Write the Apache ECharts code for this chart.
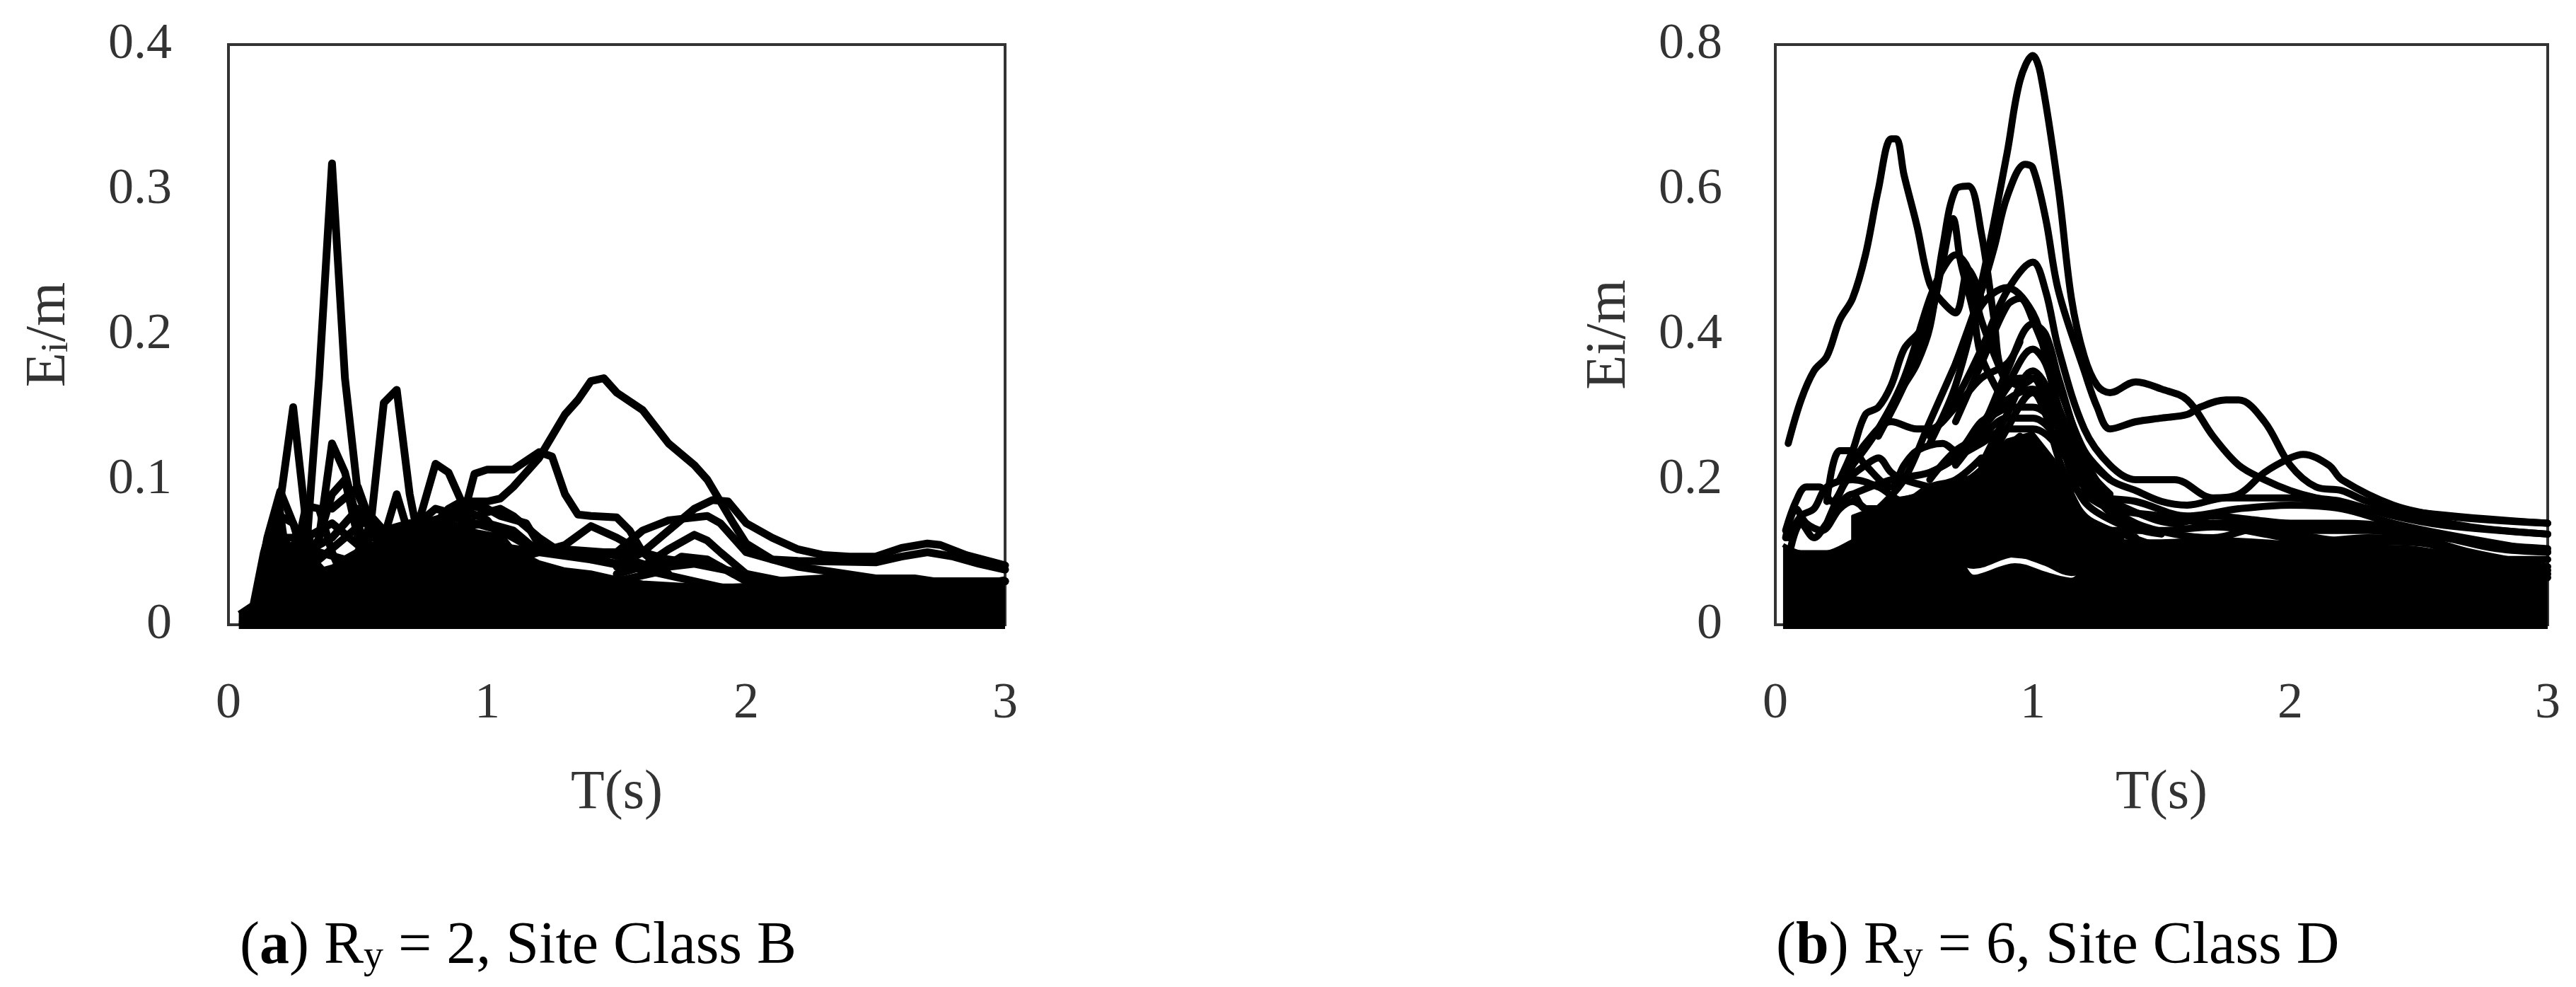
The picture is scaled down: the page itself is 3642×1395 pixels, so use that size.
<!DOCTYPE html>
<html><head><meta charset="utf-8">
<style>html,body{margin:0;padding:0;background:#fff}#c{width:3642px;height:1395px}</style>
<script src="https://cdn.jsdelivr.net/npm/echarts@6/dist/echarts.min.js"></script>
</head><body><div id="c"></div>
<script>
// Tick labels
const xTicks = [0, 1, 2, 3];
const yTicksA = [0, 0.1, 0.2, 0.3, 0.4];
const yTicksB = [0, 0.2, 0.4, 0.6, 0.8];

// Panel (a): dense lower mass of records, then the individually visible records [T, Ei/m]
const aFloor = [[0.04,0],[3,0]];
const aMass = [[0.04,0.008],[0.09,0.014],[0.13,0.05],[0.17,0.075],[0.2,0.085],[0.22,0.06],[0.3,0.035],[0.4,0.04],[0.5,0.05],[0.6,0.055],[0.7,0.06],[0.8,0.062],[0.9,0.065],[1,0.06],[1.1,0.052],[1.2,0.043],[1.3,0.038],[1.4,0.036],[1.5,0.032],[1.6,0.029],[1.8,0.027],[1.95,0.027],[2.1,0.028],[2.2,0.03],[2.5,0.03],[2.7,0.027],[2.85,0.027],[3,0.032]];
const a01 = [[0.1,0.012],[0.2,0.03],[0.3,0.05],[0.35,0.17],[0.4,0.318],[0.45,0.17],[0.5,0.09],[0.55,0.07],[0.6,0.045],[0.7,0.03]];
const a02 = [[0.1,0.012],[0.15,0.05],[0.2,0.085],[0.25,0.15],[0.3,0.07],[0.35,0.03]];
const a03 = [[0.45,0.03],[0.5,0.05],[0.55,0.07],[0.6,0.153],[0.65,0.162],[0.7,0.09],[0.75,0.045],[0.8,0.03]];
const a04 = [[0.25,0.03],[0.3,0.04],[0.35,0.06],[0.4,0.125],[0.45,0.105],[0.5,0.07],[0.55,0.04],[0.6,0.03]];
const a05 = [[0.1,0.012],[0.15,0.06],[0.2,0.092],[0.25,0.07],[0.3,0.04],[0.35,0.025]];
const a06 = [[0.65,0.04],[0.7,0.05],[0.75,0.08],[0.8,0.111],[0.85,0.105],[0.9,0.085],[0.95,0.06],[1,0.04]];
const a07 = [[0.8,0.04],[0.85,0.05],[0.9,0.07],[0.95,0.104],[1,0.107],[1.05,0.107],[1.1,0.107],[1.15,0.113],[1.2,0.119],[1.25,0.116],[1.3,0.09],[1.35,0.076],[1.4,0.075],[1.5,0.074],[1.55,0.065],[1.6,0.05],[1.7,0.04]];
const a08 = [[0.7,0.05],[0.8,0.07],[0.85,0.08],[0.9,0.085],[1,0.085],[1.05,0.087],[1.1,0.095],[1.2,0.115],[1.25,0.13],[1.3,0.145],[1.35,0.155],[1.4,0.168],[1.45,0.17],[1.5,0.16],[1.6,0.148],[1.7,0.125],[1.8,0.11],[1.85,0.1],[1.9,0.085],[1.95,0.07],[2,0.056],[2.1,0.045],[2.2,0.04],[2.5,0.032],[2.65,0.032],[2.8,0.028],[3,0.03]];
const a09 = [[1.5,0.04],[1.6,0.05],[1.7,0.065],[1.8,0.08],[1.87,0.086],[1.93,0.085],[2,0.07],[2.1,0.06],[2.2,0.052],[2.3,0.048],[2.4,0.047],[2.5,0.047],[2.6,0.053],[2.7,0.056],[2.75,0.055],[2.85,0.048],[3,0.041]];
const a10 = [[1.4,0.045],[1.5,0.05],[1.6,0.065],[1.7,0.072],[1.85,0.075],[1.9,0.07],[2,0.05],[2.1,0.045],[2.2,0.044],[2.5,0.043],[2.6,0.047],[2.7,0.05],[2.8,0.047],[2.9,0.042],[3,0.038]];
const a11 = [[1.5,0.035],[1.6,0.04],[1.7,0.052],[1.8,0.062],[1.85,0.058],[1.9,0.05],[2,0.035],[2.1,0.03],[2.3,0.032],[2.6,0.032],[2.7,0.03],[3,0.03]];
const a12 = [[1.1,0.045],[1.2,0.05],[1.3,0.055],[1.4,0.068],[1.5,0.06],[1.6,0.05],[1.7,0.035]];
const a13 = [[1.5,0.03],[1.65,0.036],[1.75,0.047],[1.85,0.045],[1.95,0.035],[2.05,0.028]];
const a14 = [[0.6,0.05],[0.7,0.06],[0.9,0.083],[1,0.08],[1.05,0.075],[1.15,0.07],[1.2,0.055],[1.3,0.05],[1.5,0.05],[1.6,0.05],[1.7,0.045],[1.9,0.04],[2,0.03]];
const a15 = [[0.25,0.04],[0.3,0.082],[0.35,0.08],[0.4,0.05],[0.45,0.03]];
const a16 = [[0.5,0.04],[0.55,0.05],[0.6,0.06],[0.65,0.09],[0.7,0.06],[0.75,0.04]];
const a17 = [[0.3,0.03],[0.4,0.09],[0.45,0.1],[0.5,0.06],[0.55,0.04]];
const a18 = [[0.15,0.05],[0.2,0.075],[0.25,0.07],[0.3,0.05],[0.4,0.03]];
const a19 = [[0.55,0.03],[0.6,0.06],[0.7,0.065],[0.8,0.06],[0.9,0.08],[1,0.072],[1.1,0.05],[1.2,0.04]];
const a20 = [[0.4,0.035],[0.5,0.05],[0.6,0.055],[0.7,0.062],[0.85,0.07],[1,0.06],[1.15,0.04]];
const a21 = [[1.1,0.05],[1.3,0.05],[1.5,0.042],[1.7,0.04],[1.8,0.042],[2,0.035],[2.2,0.028]];
const a22 = [[0.9,0.06],[1,0.055],[1.2,0.05],[1.4,0.045],[1.6,0.038],[1.8,0.03],[1.95,0.024]];
const a23 = [[0.2,0.06],[0.3,0.06],[0.4,0.07],[0.5,0.055],[0.6,0.065],[0.7,0.07],[0.8,0.055]];
const a24 = [[0.25,0.06],[0.35,0.045],[0.45,0.06],[0.55,0.075],[0.65,0.055],[0.75,0.07],[0.85,0.075],[0.95,0.07],[1.05,0.065],[1.15,0.055]];
const a25 = [[0.3,0.05],[0.4,0.06],[0.5,0.08],[0.6,0.05],[0.7,0.065],[0.8,0.08],[0.9,0.075]];
const a26 = [[0.4,0.08],[0.5,0.095],[0.55,0.07],[0.65,0.05],[0.8,0.065],[1,0.07],[1.1,0.065],[1.2,0.05]];
const a27 = [[0.95,0.075],[1.05,0.08],[1.1,0.075],[1.2,0.06],[1.3,0.048]];
const a28 = [[1.2,0.052],[1.3,0.052],[1.45,0.05],[1.6,0.042]];
const a29 = [[0.2,0.05],[0.25,0.055],[0.3,0.045],[0.35,0.05],[0.45,0.045],[0.55,0.055],[0.65,0.05],[0.75,0.06],[0.9,0.065],[1.05,0.06]];
const aCurves = [a01,a02,a03,a04,a05,a06,a07,a08,a09,a10,a11,a12,a13,a14,a15,a16,a17,a18,a19,a20,a21,a22,a23,a24,a25,a26,a27,a28,a29];

// Panel (b)
const bFloor = [[0.03,0],[3,0]];
const bMass = [[0.03,0.11],[0.1,0.1],[0.2,0.1],[0.3,0.115],[0.4,0.13],[0.5,0.135],[0.6,0.13],[0.7,0.1],[0.77,0.066],[0.93,0.082],[0.97,0.08],[1.05,0.07],[1.15,0.062],[1.25,0.1],[1.35,0.115],[1.5,0.115],[1.7,0.118],[1.9,0.115],[2.1,0.11],[2.3,0.108],[2.5,0.105],[2.7,0.09],[2.85,0.072],[3,0.065]];
// Upper dense band over the peak: [T, lower edge, upper edge]
const bBand = [[0.3,0.11,0.15],[0.45,0.12,0.17],[0.6,0.125,0.185],[0.7,0.095,0.2],[0.77,0.085,0.205],[0.9,0.095,0.255],[1,0.092,0.265],[1.1,0.078,0.22],[1.2,0.07,0.15],[1.35,0.1,0.125]];
const b01 = [[0.05,0.25],[0.1,0.31],[0.15,0.35],[0.2,0.37],[0.25,0.42],[0.3,0.45],[0.35,0.51],[0.4,0.6],[0.45,0.67],[0.47,0.67],[0.5,0.62],[0.55,0.55],[0.6,0.47],[0.65,0.445],[0.7,0.43],[0.75,0.49],[0.8,0.45]];
const b02 = [[0.4,0.27],[0.5,0.33],[0.55,0.36],[0.6,0.41],[0.65,0.52],[0.7,0.6],[0.75,0.605],[0.8,0.54],[0.85,0.42],[0.88,0.35],[0.95,0.33],[1,0.34]];
const b03 = [[0.4,0.26],[0.5,0.33],[0.6,0.42],[0.65,0.5],[0.69,0.56],[0.72,0.5],[0.77,0.43],[0.8,0.37],[0.9,0.3]];
const b04 = [[0.3,0.22],[0.4,0.27],[0.5,0.34],[0.6,0.45],[0.65,0.49],[0.7,0.51],[0.75,0.49],[0.8,0.42],[0.9,0.33]];
const b05 = [[0.6,0.25],[0.7,0.33],[0.8,0.47],[0.9,0.65],[0.95,0.75],[1,0.785],[1.03,0.76],[1.1,0.6],[1.15,0.45],[1.2,0.37],[1.25,0.33],[1.3,0.32],[1.4,0.335],[1.5,0.325],[1.6,0.31],[1.7,0.26],[1.8,0.22],[1.9,0.2],[2,0.185],[2.1,0.175],[2.2,0.17],[2.4,0.15],[2.6,0.137],[3,0.125]];
const b06 = [[0.7,0.36],[0.8,0.46],[0.85,0.52],[0.9,0.59],[0.97,0.635],[1,0.63],[1.05,0.56],[1.1,0.46],[1.2,0.35],[1.25,0.3],[1.3,0.27],[1.4,0.28],[1.5,0.285],[1.6,0.29],[1.65,0.3],[1.75,0.31],[1.8,0.31],[1.9,0.28],[2,0.22],[2.1,0.19],[2.2,0.185],[2.3,0.17],[2.5,0.155],[3,0.14]];
const b07 = [[0.6,0.26],[0.7,0.31],[0.8,0.38],[0.9,0.46],[1,0.5],[1.05,0.46],[1.1,0.38],[1.2,0.27],[1.3,0.22],[1.4,0.2],[1.55,0.2],[1.7,0.175],[1.8,0.18],[1.9,0.21],[2,0.23],[2.05,0.235],[2.15,0.22],[2.2,0.2],[2.4,0.165],[2.6,0.15],[3,0.14]];
const b08 = [[0.4,0.16],[0.5,0.2],[0.6,0.28],[0.7,0.36],[0.8,0.44],[0.9,0.465],[1,0.43],[1.05,0.37],[1.1,0.3],[1.2,0.22],[1.3,0.18]];
const b09 = [[0.7,0.28],[0.8,0.36],[0.9,0.44],[0.95,0.45],[1,0.42],[1.1,0.33],[1.2,0.24],[1.3,0.2]];
const b10 = [[0.7,0.22],[0.8,0.27],[0.9,0.35],[1,0.415],[1.05,0.4],[1.1,0.34],[1.2,0.23],[1.3,0.17]];
const b11 = [[0.2,0.14],[0.3,0.22],[0.35,0.25],[0.45,0.28],[0.55,0.27],[0.6,0.27],[0.7,0.3],[0.8,0.34],[0.9,0.36],[0.95,0.39]];
const b12 = [[0.25,0.2],[0.3,0.24],[0.35,0.29],[0.4,0.3],[0.45,0.33],[0.5,0.38],[0.55,0.4],[0.6,0.42]];
const b13 = [[0.04,0.13],[0.08,0.17],[0.12,0.19],[0.17,0.19],[0.22,0.17],[0.28,0.2],[0.35,0.22],[0.4,0.23],[0.45,0.21],[0.5,0.2],[0.6,0.19]];
const b14 = [[0.2,0.17],[0.25,0.24],[0.3,0.24],[0.35,0.22],[0.45,0.19],[0.5,0.22],[0.55,0.24],[0.65,0.25],[0.7,0.24],[0.8,0.28],[0.85,0.29],[0.9,0.3]];
const b15 = [[1.2,0.18],[1.3,0.16],[1.5,0.15],[1.7,0.14],[1.9,0.14],[2.1,0.13],[2.3,0.13],[2.5,0.12],[2.7,0.1],[3,0.08]];
const b16 = [[1.1,0.21],[1.2,0.18],[1.4,0.17],[1.6,0.15],[1.8,0.16],[2,0.165],[2.2,0.16],[2.4,0.14],[2.6,0.125],[3,0.1]];
const b17 = [[1.15,0.25],[1.3,0.2],[1.4,0.185],[1.5,0.17],[1.6,0.165],[1.75,0.175],[2,0.175],[2.2,0.165],[2.4,0.155],[2.7,0.135],[3,0.125]];
const b18 = [[1.1,0.3],[1.2,0.22],[1.3,0.165],[1.4,0.14],[1.55,0.125],[1.7,0.12],[1.9,0.135],[2.1,0.12],[2.3,0.11],[2.6,0.09],[3,0.065]];
const b19 = [[0.8,0.27],[0.9,0.33],[1,0.38],[1.05,0.36],[1.1,0.3],[1.2,0.2],[1.35,0.14],[1.5,0.125]];
const b20 = [[0.8,0.22],[0.9,0.29],[1,0.35],[1.05,0.33],[1.1,0.27],[1.2,0.17],[1.4,0.13]];
const b21 = [[0.8,0.2],[0.9,0.27],[1,0.32],[1.05,0.29],[1.1,0.23],[1.2,0.15],[1.4,0.12]];
const b23 = [[0.05,0.12],[0.1,0.15],[0.15,0.16],[0.2,0.19],[0.3,0.2],[0.4,0.19],[0.5,0.17],[0.6,0.19],[0.7,0.2],[0.8,0.23]];
const b24 = [[0.05,0.09],[0.1,0.14],[0.15,0.12],[0.2,0.14],[0.3,0.18],[0.35,0.16],[0.45,0.16],[0.55,0.17],[0.65,0.18],[0.8,0.2],[0.9,0.23]];
const b28 = [[0.7,0.09],[0.77,0.082],[0.93,0.098],[0.97,0.096],[1.05,0.086],[1.15,0.072],[1.22,0.08]];
const b30 = [[1.1,0.19],[1.2,0.145],[1.35,0.125],[1.5,0.11],[1.7,0.11],[1.9,0.1],[2.1,0.105],[2.4,0.1],[2.7,0.085],[3,0.07]];
const b31 = [[1.7,0.14],[1.9,0.125],[2.1,0.115],[2.3,0.12],[2.5,0.115],[2.75,0.09],[3,0.09]];
const b32 = [[2,0.13],[2.2,0.135],[2.4,0.13],[2.6,0.12],[2.8,0.105],[3,0.1]];
const b44 = [[0.3,0.18],[0.45,0.2],[0.6,0.21],[0.7,0.23],[0.8,0.25],[0.9,0.27],[1,0.27],[1.1,0.245],[1.2,0.19],[1.35,0.15]];
const b45 = [[0.6,0.2],[0.7,0.24],[0.8,0.26],[0.9,0.285],[1,0.285],[1.1,0.255],[1.2,0.2],[1.35,0.155]];
const b46 = [[0.6,0.21],[0.7,0.23],[0.8,0.27],[0.9,0.3],[1,0.3],[1.1,0.27],[1.2,0.21],[1.35,0.16]];
const b47 = [[0.7,0.23],[0.8,0.27],[0.9,0.31],[1,0.325],[1.1,0.28],[1.2,0.21]];
const b48 = [[0.75,0.25],[0.85,0.3],[0.95,0.34],[1,0.34],[1.05,0.31],[1.15,0.24],[1.25,0.17]];
const b49 = [[1.3,0.13],[1.5,0.13],[1.7,0.135],[1.9,0.128],[2.1,0.115],[2.3,0.115],[2.5,0.113],[2.7,0.098],[2.9,0.08],[3,0.075]];
const b50 = [[1.2,0.19],[1.4,0.155],[1.55,0.14],[1.7,0.15],[1.85,0.145],[2,0.14],[2.2,0.14],[2.4,0.135],[2.6,0.12],[2.8,0.11],[3,0.105]];
const b51 = [[0.04,0.12],[0.08,0.16],[0.12,0.14],[0.18,0.13],[0.25,0.16],[0.3,0.17],[0.35,0.16]];
const b52 = [[0.45,0.17],[0.6,0.18],[0.75,0.2],[0.85,0.23],[0.95,0.26]];
const bCurves = [b01,b02,b03,b04,b05,b06,b07,b08,b09,b10,b11,b12,b13,b14,b15,b16,b17,b18,b19,b20,b21,b23,b24,b28,b30,b31,b32,b44,b45,b46,b47,b48,b49,b50,b51,b52];

// Text
const yNameA = '{i|E}{s|i}{i|/m}';
const yNameB = 'Ei/m';
const xName = 'T(s)';
const captionA = ['(', 'a', ') R', 'y', ' = 2, Site Class B'];
const captionB = ['(', 'b', ') R', 'y', ' = 6, Site Class D'];

const FONT = 'Liberation Serif';
const TICK = '#333';
const BLACK = '#000';

function cap(c){ return `{n|${c[0]}}{b|${c[1]}}{n|${c[2]}}{s|${c[3]}}{n|${c[4]}}`; }
const capRich = {
  n:{fontFamily:FONT,fontSize:84,fontWeight:'normal',color:'#000'},
  b:{fontFamily:FONT,fontSize:84,fontWeight:'bold',color:'#000'},
  s:{fontFamily:FONT,fontSize:56,fontWeight:'normal',color:'#000',verticalAlign:'bottom',padding:[24,0,0,0]}
};
function xAxis(i){ return {
  gridIndex:i,type:'value',min:0,max:3,interval:1,
  name:xName,nameLocation:'middle',nameGap:200,
  nameTextStyle:{fontFamily:FONT,fontSize:78,color:TICK},
  axisLine:{show:false},axisTick:{show:false},splitLine:{show:false},
  axisLabel:{margin:76,fontFamily:FONT,fontSize:72,color:TICK,
    formatter:v=>xTicks.includes(v)?String(v):''}
};}
function yAxis(i,max,int,ticks,name,rich,gap,pad,margin){ return {
  gridIndex:i,type:'value',min:0,max:max,interval:int,
  name:name,nameLocation:'middle',nameGap:gap,nameRotate:90,
  nameTextStyle:{fontFamily:FONT,fontSize:80,color:TICK,padding:pad,rich:rich},
  axisLine:{show:false},axisTick:{show:false},splitLine:{show:false},
  axisLabel:{margin:margin,fontFamily:FONT,fontSize:72,color:TICK,
    formatter:v=>ticks.includes(+v.toFixed(1))?(v===0?'0':v.toFixed(1)):''}
};}
function bandSeries(i,rows){
  return {type:'custom',xAxisIndex:i,yAxisIndex:i,data:rows,silent:true,clip:false,
    encode:{x:0,y:[1,2]},
    renderItem:(params,api)=>{
      const k=params.dataIndex; if(k>=rows.length-1) return null;
      const r=rows[k], s=rows[k+1];
      const pts=[api.coord([r[0],r[1]]),api.coord([s[0],s[1]]),api.coord([s[0],s[2]]),api.coord([r[0],r[2]])];
      return {type:'polygon',shape:{points:pts},style:{fill:BLACK,stroke:BLACK,lineWidth:4,lineJoin:'round'}};
    }};
}
function mk(i,curves,mass,floor,smooth,band){
  const base={type:'line',xAxisIndex:i,yAxisIndex:i,showSymbol:false,symbol:'none',clip:false,silent:true};
  const out=[
    {...base,data:floor,lineStyle:{color:BLACK,width:12,cap:'butt'}},
    {...base,data:mass,smooth:smooth?0.3:false,lineStyle:{color:BLACK,width:6,join:'round'},areaStyle:{color:BLACK,opacity:1,origin:0}}
  ];
  if(band) out.push(bandSeries(i,band));
  curves.forEach(d=>out.push({...base,data:d,smooth:smooth?0.35:false,
    lineStyle:{color:BLACK,width:smooth?10:11,join:'round',cap:'round'}}));
  return out;
}
const chart = echarts.init(document.getElementById('c'),null,{renderer:'canvas'});
chart.setOption({
  animation:false,backgroundColor:'#fff',
  grid:[
    {left:323,top:63,width:1098,height:820,show:true,borderColor:'#333',borderWidth:4,backgroundColor:'transparent'},
    {left:2510,top:63,width:1092,height:820,show:true,borderColor:'#333',borderWidth:4,backgroundColor:'transparent'}
  ],
  xAxis:[xAxis(0),xAxis(1)],
  yAxis:[
    yAxis(0,0.4,0.1,yTicksA,yNameA,{i:{fontFamily:FONT,fontSize:80,color:TICK},s:{fontFamily:FONT,fontSize:54,color:TICK,padding:[22,0,0,0]}},213,[100,0,0,0],80),
    yAxis(1,0.8,0.2,yTicksB,yNameB,undefined,194,[0,0,0,0],75)
  ],
  title:[
    {text:cap(captionA),left:334,top:1292,textStyle:{rich:capRich}},
    {text:cap(captionB),left:2506,top:1292,textStyle:{rich:capRich}}
  ],
  series:[...mk(0,aCurves,aMass,aFloor,false),...mk(1,bCurves,bMass,bFloor,true,bBand)]
});
</script></body></html>
